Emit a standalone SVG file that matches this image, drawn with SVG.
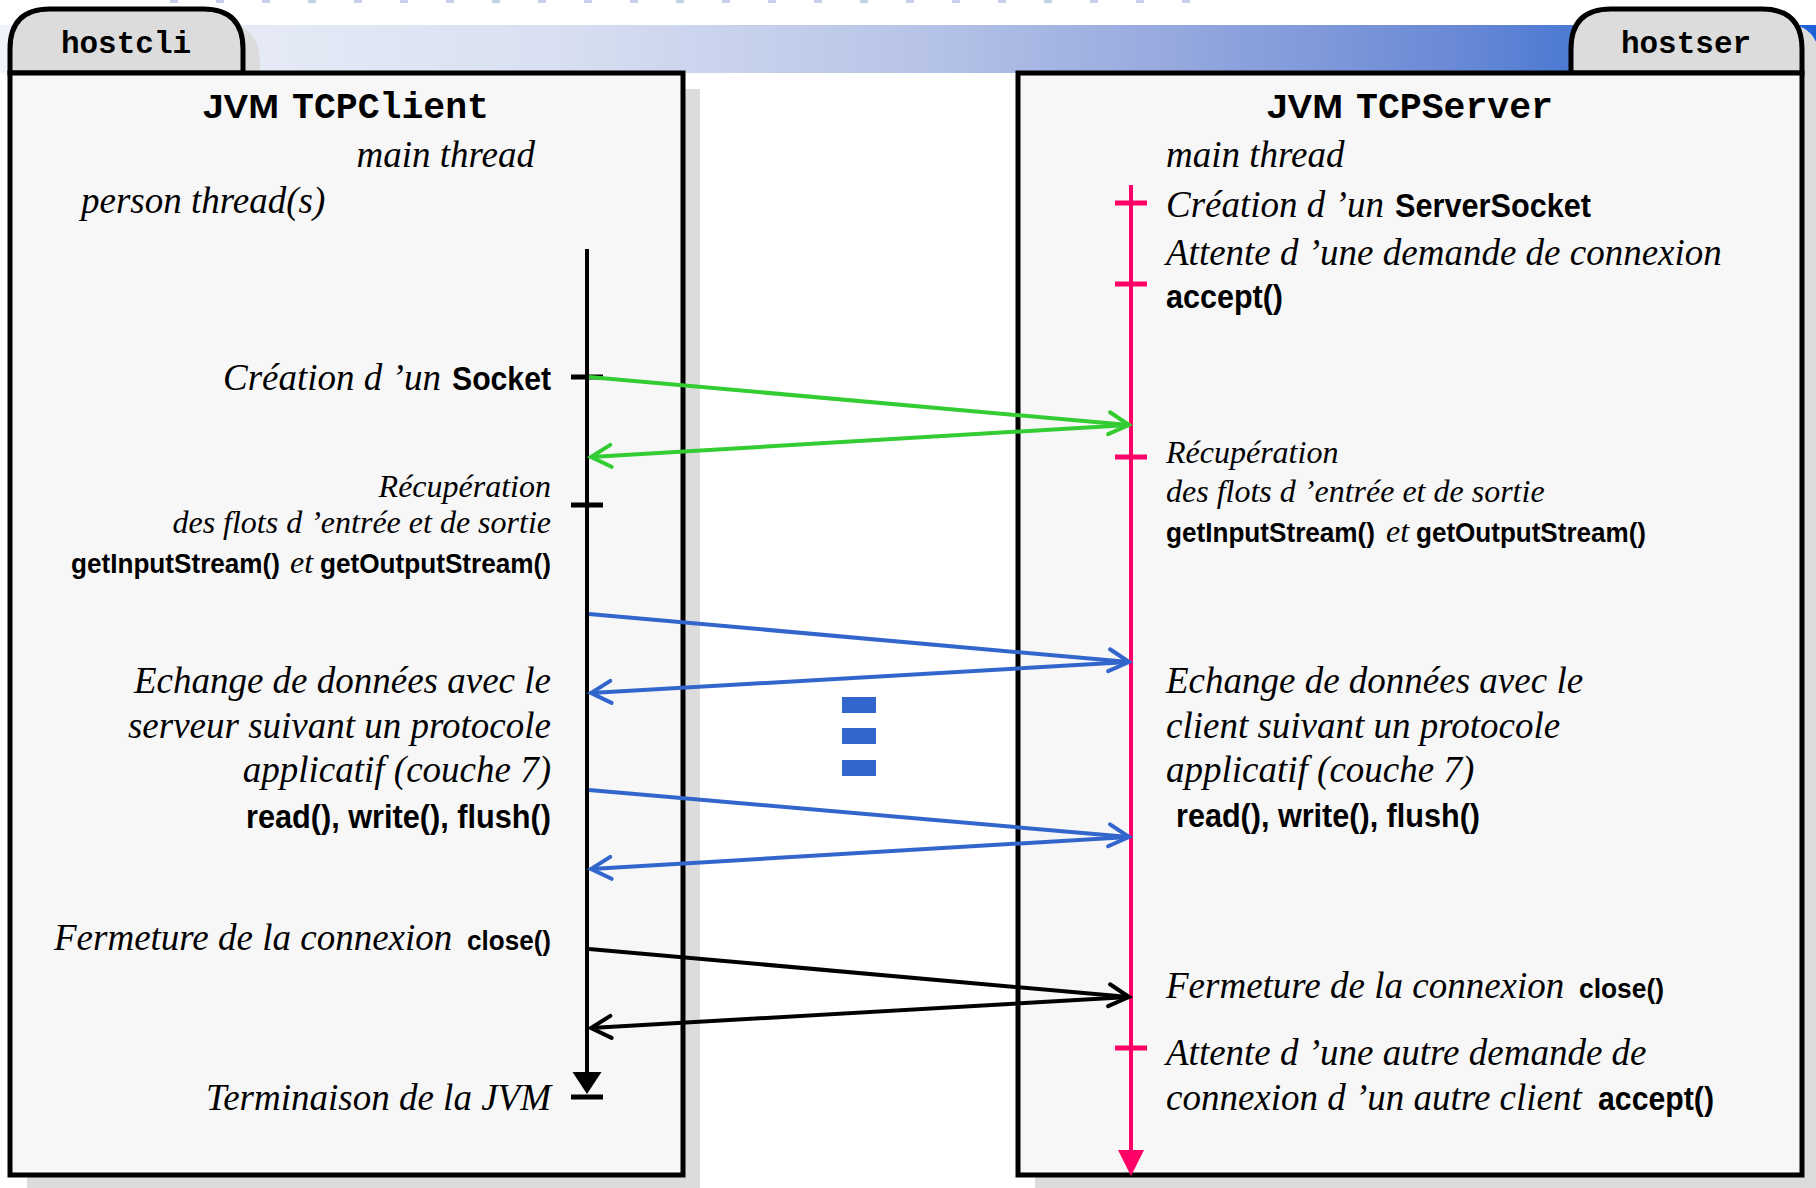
<svg xmlns="http://www.w3.org/2000/svg" width="1816" height="1188" viewBox="0 0 1816 1188">
<defs>
<style>
.it{font-family:"Liberation Serif","Times New Roman",serif;font-style:italic;font-size:37px;fill:#000}
.its{font-size:32px}
.b{font-family:"Liberation Sans",Arial,sans-serif;font-weight:bold;font-style:normal;font-size:34px;fill:#000}
.bs{font-size:27px}
.bxs{font-size:27px}
.mono{font-family:"Liberation Mono","Courier New",monospace;font-weight:bold;fill:#000}
.box{fill:#f7f7f7;stroke:#000;stroke-width:5}
.tab{fill:#dcdcdc;stroke:#000;stroke-width:5}
.shadow{fill:#dcdcdc}
.life{stroke:#000;stroke-width:4;fill:none}
.pink{stroke:#ff0066;stroke-width:4;fill:none}
.tick{stroke:#000;stroke-width:5}
.ptick{stroke:#ff0066;stroke-width:5}
.cg{stroke:#33cc33;stroke-width:4;fill:none}
.cb{stroke:#3366cc;stroke-width:4;fill:none}
.ck{stroke:#000;stroke-width:4;fill:none}
</style>
<linearGradient id="band" x1="0" y1="0" x2="1" y2="0">
<stop offset="0" stop-color="#f0f3fa"/>
<stop offset="0.3" stop-color="#d9e0f1"/>
<stop offset="0.5" stop-color="#b8c5e8"/>
<stop offset="0.65" stop-color="#95a8de"/>
<stop offset="0.8" stop-color="#6a8ad6"/>
<stop offset="0.87" stop-color="#4a78d2"/>
<stop offset="1" stop-color="#1c62d6"/>
</linearGradient>
<marker id="ag" markerUnits="userSpaceOnUse" orient="auto" overflow="visible" markerWidth="1" markerHeight="1" refX="0" refY="0"><path d="M-20,-11 L0,0 L-20,11" fill="none" stroke="#33cc33" stroke-width="4" stroke-linecap="round"/></marker>
<marker id="ab" markerUnits="userSpaceOnUse" orient="auto" overflow="visible" markerWidth="1" markerHeight="1" refX="0" refY="0"><path d="M-20,-11 L0,0 L-20,11" fill="none" stroke="#3366cc" stroke-width="4" stroke-linecap="round"/></marker>
<marker id="ak" markerUnits="userSpaceOnUse" orient="auto" overflow="visible" markerWidth="1" markerHeight="1" refX="0" refY="0"><path d="M-20,-11 L0,0 L-20,11" fill="none" stroke="#000" stroke-width="4" stroke-linecap="round"/></marker>
</defs>
<rect x="0" y="0" width="1816" height="1188" fill="#fff"/>
<line x1="170" y1="1.5" x2="1195" y2="1.5" stroke="#c4d0ec" stroke-width="3" stroke-dasharray="8 38"/>
<rect x="0" y="25" width="1816" height="48" fill="url(#band)"/>

<g id="hostcli">
<path class="shadow" d="M27,89 L27,63 Q27,23 67,23 L220,23 Q260,23 260,63 L260,89 L700,89 L700,1192 L27,1192 Z"/>
<path class="tab" d="M10,73 L10,49 Q10,9 50,9 L203,9 Q243,9 243,49 L243,73 Z"/>
<text class="mono" x="126" y="53" font-size="31" text-anchor="middle">hostcli</text>
<rect class="box" x="10" y="73" width="673" height="1102"/>
<text y="118"><tspan class="b" x="203" font-size="36" textLength="76" lengthAdjust="spacingAndGlyphs">JVM</tspan><tspan class="mono" x="292" font-size="36" textLength="197" lengthAdjust="spacingAndGlyphs">TCPClient</tspan></text>
<text class="it" x="535" y="167" text-anchor="end">main thread</text>
<text class="it" x="81" y="213">person thread(s)</text>
<line class="life" x1="587" y1="249" x2="587" y2="1074"/>
<polygon points="572.5,1072 601.5,1072 587,1094" fill="#000"/>
<line class="tick" x1="571" y1="1097" x2="603" y2="1097"/>
<line class="tick" x1="571" y1="377" x2="603" y2="377"/>
<line class="tick" x1="571" y1="505" x2="603" y2="505"/>
<text y="390"><tspan class="it" x="223">Création d ’un </tspan><tspan class="b" x="452" textLength="99" lengthAdjust="spacingAndGlyphs">Socket</tspan></text>
<text class="it its" x="551" y="497" text-anchor="end">Récupération</text>
<text class="it its" x="551" y="533" text-anchor="end">des flots d ’entrée et de sortie</text>
<text y="573"><tspan class="b bs" x="71" textLength="209" lengthAdjust="spacingAndGlyphs">getInputStream()</tspan><tspan class="it its" x="290">et</tspan><tspan class="b bs" x="320" textLength="231" lengthAdjust="spacingAndGlyphs">getOutputStream()</tspan></text>
<text class="it" x="551" y="693" text-anchor="end">Echange de données avec le</text>
<text class="it" x="551" y="738" text-anchor="end">serveur suivant un protocole</text>
<text class="it" x="551" y="782" text-anchor="end">applicatif (couche 7)</text>
<text class="b" x="246" y="828" textLength="305" lengthAdjust="spacingAndGlyphs">read(), write(), flush()</text>
<text y="950"><tspan class="it" x="54">Fermeture de la connexion </tspan><tspan class="b bxs" x="467" textLength="84" lengthAdjust="spacingAndGlyphs">close()</tspan></text>
<text class="it" x="551" y="1110" text-anchor="end">Terminaison de la JVM</text>
</g>

<g id="hostser">
<path class="shadow" d="M1588,89 L1588,63 Q1588,23 1628,23 L1780,23 Q1820,23 1820,63 L1820,1192 L1035,1192 L1035,89 Z"/>
<path class="tab" d="M1571,73 L1571,49 Q1571,9 1611,9 L1762,9 Q1802,9 1802,49 L1802,73 Z"/>
<text class="mono" x="1686" y="53" font-size="31" text-anchor="middle">hostser</text>
<rect class="box" x="1018" y="73" width="784" height="1102"/>
<text y="118"><tspan class="b" x="1267" font-size="36" textLength="76" lengthAdjust="spacingAndGlyphs">JVM</tspan><tspan class="mono" x="1356" font-size="36" textLength="197" lengthAdjust="spacingAndGlyphs">TCPServer</tspan></text>
<text class="it" x="1166" y="167">main thread</text>
<line class="pink" x1="1131" y1="185" x2="1131" y2="1152"/>
<polygon points="1118,1150 1144,1150 1131,1176" fill="#ff0066"/>
<line class="ptick" x1="1115" y1="203" x2="1147" y2="203"/>
<line class="ptick" x1="1115" y1="284" x2="1147" y2="284"/>
<line class="ptick" x1="1115" y1="457" x2="1147" y2="457"/>
<line class="ptick" x1="1115" y1="1048" x2="1147" y2="1048"/>
<text y="217"><tspan class="it" x="1166">Création d ’un </tspan><tspan class="b" x="1395" textLength="196" lengthAdjust="spacingAndGlyphs">ServerSocket</tspan></text>
<text class="it" x="1166" y="265">Attente d ’une demande de connexion</text>
<text class="b" x="1166" y="308" textLength="117" lengthAdjust="spacingAndGlyphs">accept()</text>
<text class="it its" x="1166" y="463">Récupération</text>
<text class="it its" x="1166" y="502">des flots d ’entrée et de sortie</text>
<text y="542"><tspan class="b bs" x="1166" textLength="209" lengthAdjust="spacingAndGlyphs">getInputStream()</tspan><tspan class="it its" x="1386">et</tspan><tspan class="b bs" x="1416" textLength="230" lengthAdjust="spacingAndGlyphs">getOutputStream()</tspan></text>
<text class="it" x="1166" y="693">Echange de données avec le</text>
<text class="it" x="1166" y="738">client suivant un protocole</text>
<text class="it" x="1166" y="782">applicatif (couche 7)</text>
<text class="b" x="1176" y="827" textLength="304" lengthAdjust="spacingAndGlyphs">read(), write(), flush()</text>
<text y="998"><tspan class="it" x="1166">Fermeture de la connexion </tspan><tspan class="b bxs" x="1579" textLength="85" lengthAdjust="spacingAndGlyphs">close()</tspan></text>
<text class="it" x="1166" y="1065">Attente d ’une autre demande de</text>
<text y="1110"><tspan class="it" x="1166">connexion d ’un autre client </tspan><tspan class="b" x="1598" textLength="116" lengthAdjust="spacingAndGlyphs">accept()</tspan></text>
</g>

<g id="connectors">
<line class="cg" x1="589" y1="377" x2="1129" y2="425" marker-end="url(#ag)"/>
<line class="cg" x1="1129" y1="425" x2="591" y2="457" marker-end="url(#ag)"/>
<line class="cb" x1="589" y1="614" x2="1129" y2="662" marker-end="url(#ab)"/>
<line class="cb" x1="1129" y1="662" x2="591" y2="693" marker-end="url(#ab)"/>
<line class="cb" x1="589" y1="790" x2="1129" y2="837" marker-end="url(#ab)"/>
<line class="cb" x1="1129" y1="837" x2="591" y2="869" marker-end="url(#ab)"/>
<line class="ck" x1="589" y1="949" x2="1129" y2="997" marker-end="url(#ak)"/>
<line class="ck" x1="1129" y1="997" x2="591" y2="1028" marker-end="url(#ak)"/>
</g>
<g id="ellipsis" fill="#3366cc">
<rect x="842" y="697" width="34" height="16"/>
<rect x="842" y="728" width="34" height="16"/>
<rect x="842" y="760" width="34" height="16"/>
</g>
</svg>
